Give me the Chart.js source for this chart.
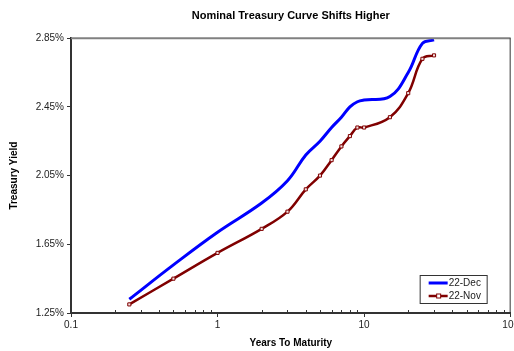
<!DOCTYPE html>
<html>
<head>
<meta charset="utf-8">
<script src="https://cdn.jsdelivr.net/npm/chart.js@4/dist/chart.umd.min.js"></script>
<style>
  html, body { margin: 0; padding: 0; background: #fff; overflow: hidden; }
  #wrap { width: 514px; height: 351px; overflow: hidden; }
</style>
</head>
<body>
<div id="wrap"><canvas id="curveChart" width="521" height="351"></canvas></div>
<script>
// years to maturity
const maturities = [0.25, 0.5, 1, 2, 3, 4, 5, 6, 7, 8, 9, 10, 15, 20, 25, 30];
// yields in %
const dec22 = [1.33, 1.53, 1.72, 1.89, 2.02, 2.17, 2.25, 2.33, 2.39, 2.45, 2.48, 2.49, 2.51, 2.65, 2.82, 2.84];
const nov22 = [1.30, 1.45, 1.60, 1.74, 1.84, 1.97, 2.05, 2.14, 2.22, 2.28, 2.33, 2.33, 2.39, 2.53, 2.73, 2.75];
const seriesNames = ["22-Dec", "22-Nov"];
const xMajor = [0.1, 1, 10, 100];
const xTickLabels = ["0.1", "1", "10", "100"];
const yTicks = [1.25, 1.65, 2.05, 2.45, 2.85];

const FONT = "'Liberation Sans', Arial, sans-serif";
Chart.defaults.font.family = FONT;
Chart.defaults.color = "#222";

const toPoints = (ys) => maturities.map((m, i) => ({ x: m, y: ys[i] }));

// top/right frame, inward minor ticks and the boxed legend
const framePlugin = {
  id: "frame",
  afterDatasetsDraw(chart) {
    const { ctx, chartArea: a, scales } = chart;
    ctx.save();
    ctx.strokeStyle = "#808080";
    ctx.lineWidth = 2;
    ctx.beginPath();
    ctx.moveTo(a.left, a.top);
    ctx.lineTo(a.right, a.top);
    ctx.stroke();
    ctx.strokeStyle = "#333";
    ctx.lineWidth = 1;
    ctx.beginPath();
    ctx.moveTo(a.right - 0.5, a.top);
    ctx.lineTo(a.right - 0.5, a.bottom);
    ctx.stroke();

    // minor ticks on the log axis point inward
    ctx.beginPath();
    scales.x.ticks.forEach(t => {
      if (t.major) return;
      const px = Math.round(scales.x.getPixelForValue(t.value)) + 0.5;
      ctx.moveTo(px, a.bottom);
      ctx.lineTo(px, a.bottom - 3);
    });
    ctx.stroke();

    // legend
    const bx = a.right - 91, by = a.bottom - 38, bw = 67, bh = 28;
    ctx.fillStyle = "#fff";
    ctx.fillRect(bx, by, bw, bh);
    ctx.strokeStyle = "#333";
    ctx.strokeRect(bx + 0.5, by + 0.5, bw, bh);
    ctx.font = "10px " + FONT;
    ctx.textBaseline = "middle";
    chart.data.datasets.forEach((ds, i) => {
      const ly = by + 8 + i * 13;
      ctx.strokeStyle = ds.borderColor;
      ctx.lineWidth = ds.borderWidth;
      ctx.beginPath();
      ctx.moveTo(bx + 9, ly);
      ctx.lineTo(bx + 28, ly);
      ctx.stroke();
      if (ds.pointRadius > 0) {
        ctx.fillStyle = "#fff";
        ctx.lineWidth = 1;
        ctx.fillRect(bx + 17, ly - 2, 4, 4);
        ctx.strokeRect(bx + 17, ly - 2, 4, 4);
      }
      ctx.fillStyle = "#222";
      ctx.fillText(ds.label, bx + 29, ly + 0.5);
    });
    ctx.restore();
  }
};

new Chart(document.getElementById("curveChart").getContext("2d"), {
  type: "line",
  data: {
    datasets: [
      {
        label: seriesNames[0],
        data: toPoints(dec22),
        borderColor: "#0000ff",
        borderWidth: 3,
        pointRadius: 0,
        tension: 0.4,
        fill: false
      },
      {
        label: seriesNames[1],
        data: toPoints(nov22),
        borderColor: "#800000",
        borderWidth: 2.5,
        pointStyle: "rect",
        pointRadius: 2.2,
        pointBorderWidth: 1,
        pointBorderColor: "#800000",
        pointBackgroundColor: "#f4e4e4",
        tension: 0.4,
        fill: false
      }
    ]
  },
  options: {
    responsive: false,
    animation: false,
    layout: { padding: 0 },
    plugins: {
      legend: { display: false },
      tooltip: { enabled: false },
      title: {
        display: true,
        fullSize: false,
        text: "Nominal Treasury Curve Shifts Higher",
        color: "#000",
        font: { size: 11, weight: "bold" },
        padding: { top: 9, bottom: 16 }
      }
    },
    scales: {
      x: {
        type: "logarithmic",
        min: 0.1,
        max: 100,
        afterBuildTicks(scale) {
          const t = [];
          xMajor.forEach((d, i) => {
            t.push({ value: d, major: true });
            if (i < xMajor.length - 1) {
              for (let k = 2; k <= 9; k++) t.push({ value: d * k, major: false });
            }
          });
          scale.ticks = t;
        },
        afterFit(scale) { scale.height = 38; },
        ticks: {
          autoSkip: false,
          maxRotation: 0,
          padding: 2,
          font: { size: 10 },
          callback(value, index, ticks) {
            const i = xMajor.indexOf(value);
            return ticks[index].major && i >= 0 ? xTickLabels[i] : "";
          }
        },
        grid: {
          drawOnChartArea: false,
          tickLength: 4,
          tickColor: (c) => (c.tick && c.tick.major ? "#333" : "transparent")
        },
        border: { color: "#333", width: 2 },
        title: {
          display: true,
          text: "Years To Maturity",
          color: "#000",
          font: { size: 10, weight: "bold" },
          padding: { top: 0, bottom: 2 }
        }
      },
      y: {
        type: "linear",
        min: 1.25,
        max: 2.85,
        afterBuildTicks(scale) {
          scale.ticks = yTicks.map(v => ({ value: v }));
        },
        afterFit(scale) { scale.width = 71; },
        ticks: {
          padding: 3,
          font: { size: 10 },
          callback: (v) => v.toFixed(2) + "%"
        },
        grid: { drawOnChartArea: false, tickLength: 4, tickColor: "#333" },
        border: { color: "#333", width: 2 },
        title: {
          display: true,
          text: "Treasury Yield",
          color: "#000",
          font: { size: 10, weight: "bold" },
          padding: { top: 8, bottom: 0 }
        }
      }
    }
  },
  plugins: [framePlugin]
});
</script>
</body>
</html>
